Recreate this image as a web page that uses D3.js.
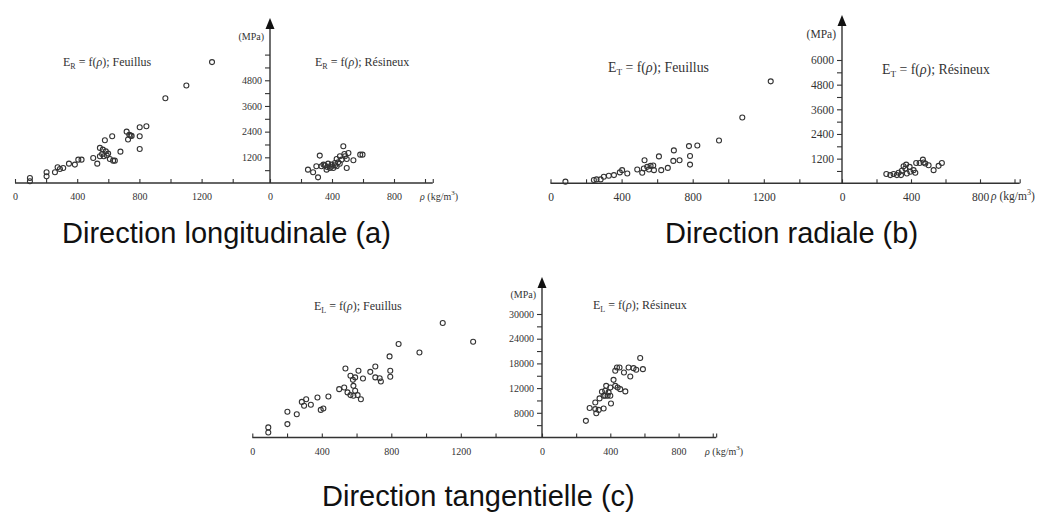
<!DOCTYPE html>
<html>
<head>
<meta charset="utf-8">
<script src="https://cdn.jsdelivr.net/npm/d3@7"></script>
<style>
  body { margin: 0; background: #fff; }
  svg text { font-family: "Liberation Serif", "Times New Roman", serif; fill: #333; }
  .title { font-family: "Liberation Sans", Arial, sans-serif; fill: #111; font-size: 29px; }
</style>
</head>
<body>
<svg id="chart" width="1056" height="512"></svg>
<script>
// values: [rho (kg/m3), E (MPa)]
const longFeuillus = [[1267,5650],[1102,4555],[967,3960],[845,2650],[802,2605],[802,2185],[802,1590],
  [743,2215],[735,2250],[750,2200],[718,2400],[727,2030],[625,2185],[578,2000],[546,1640],[584,1480],
  [599,1375],[571,1250],[546,1250],[503,1170],[529,905],[610,1125],[631,1045],[642,1045],[678,1465],
  [565,1560],[590,1300],[560,1350],[407,1090],[428,1090],[385,860],[347,905],[310,700],[289,655],
  [274,735],[257,500],[203,500],[203,310],[96,235],[96,80]];
const longResineux = [[473,1715],[321,1280],[582,1325],[597,1325],[506,1405],[480,1355],[451,1250],
  [462,1090],[430,1125],[495,1125],[538,1060],[419,935],[397,860],[375,905],[354,825],[332,780],
  [299,780],[386,700],[408,700],[430,780],[365,625],[495,700],[245,625],[278,500],[310,265],[440,965],
  [484,1250],[345,860],[370,750],[420,830],[450,900],[395,760]];
const radFeuillus = [[1239,4960],[1079,3200],[948,2080],[826,1840],[779,1810],[785,1330],[785,910],
  [726,1120],[691,1090],[694,1600],[610,1310],[529,1120],[563,850],[544,800],[525,720],[582,640],
  [623,640],[660,750],[516,510],[488,670],[432,480],[403,640],[390,530],[357,400],[328,370],[300,320],
  [282,190],[259,190],[244,160],[84,80],[554,670],[578,865]];
const radResineux = [[579,990],[560,850],[531,640],[502,880],[483,960],[469,1150],[450,990],[430,990],
  [372,910],[392,800],[415,640],[425,510],[396,560],[367,720],[347,610],[328,510],[318,400],[299,450],
  [280,400],[257,450],[342,400],[376,480],[357,830],[473,1010]];
const tangFeuillus = [[1096,27800],[1271,23250],[962,20650],[842,22700],[790,19700],[794,16200],
  [794,14750],[708,17250],[679,15950],[708,14600],[733,14400],[740,13600],[637,14350],[611,16200],
  [536,16750],[565,15000],[579,14000],[592,14600],[582,12550],[592,11350],[582,10150],[565,10300],
  [548,10950],[529,12150],[500,11750],[625,9300],[606,10300],[438,9950],[409,7050],[394,6700],
  [375,9700],[337,7950],[310,9300],[298,7700],[285,8650],[256,5650],[202,6250],[202,3250],[92,2450],[92,1200]];
const tangResineux = [[575,19300],[591,16600],[552,16450],[536,16850],[517,14800],[507,17000],
  [480,15800],[454,17000],[439,17000],[429,16200],[419,14000],[443,12150],[458,11750],[488,11200],
  [429,12550],[400,12150],[376,12550],[370,11350],[390,10950],[351,11100],[361,10150],[370,10150],
  [400,10150],[384,10150],[337,9500],[312,8500],[404,8250],[361,7050],[332,6700],[312,6900],
  [279,7150],[318,5900],[257,4050]];

// tick values and labels
const leftXTicks = [0, 200, 400, 600, 800, 1000, 1200, 1400];
const rightXTicks = [0, 200, 400, 600, 800, 1000];
const xLabelsLeft = [0, 400, 800, 1200];
const xLabelsRight = [0, 400, 800];
const yTicksSmall = d3.range(600, 6001, 600);
const yLabelsA = [1200, 2400, 3600, 4800];
const yLabelsB = [1200, 2400, 3600, 4800, 6000];
const yTicksBig = d3.range(3000, 30001, 3000);
const yLabelValsC = [6000, 12000, 18000, 24000, 30000];
const yLabelsC = ["8000", "12000", "18000", "24000", "30000"];

const titles = ["Direction longitudinale (a)", "Direction radiale (b)", "Direction tangentielle (c)"];

const svg = d3.select("#chart");
const ink = "#333";

const panels = [
  { left: longFeuillus, right: longResineux, sub: "R", title: titles[0], fs: 10,
    x0: 15, step0: 62.2, axisX: 270, step1: 62, rEnd: 1050,
    base: 183, yMax: 6000, yTopPx: 54.6, arrowTop: 18,
    yTicks: yTicksSmall, yLabelVals: yLabelsA, yLabelText: yLabelsA.map(String),
    fL: [63, 66], fR: [315, 66], rho: 420, mpaY: 40, titleX: 62, titleY: 243 },
  { left: radFeuillus, right: radResineux, sub: "T", title: titles[1], fs: 11.5,
    x0: 550.5, step0: 71.1, axisX: 842, step1: 69, rEnd: 1030,
    base: 183.3, yMax: 6000, yTopPx: 60, arrowTop: 15,
    yTicks: yTicksSmall, yLabelVals: yLabelsB, yLabelText: yLabelsB.map(String),
    fL: [608, 72], fR: [882, 74], rho: 991, mpaY: 38, titleX: 665, titleY: 243 },
  { left: tangFeuillus, right: tangResineux, sub: "L", title: titles[2], fs: 10,
    x0: 252.3, step0: 69.5, axisX: 542, step1: 68.3, rEnd: 1020,
    base: 437.5, yMax: 30000, yTopPx: 314, arrowTop: 277,
    yTicks: yTicksBig, yLabelVals: yLabelValsC, yLabelText: yLabelsC,
    fL: [314, 310], fR: [593, 309], rho: 705, mpaY: 298, titleX: 322, titleY: 506 }
];

function styleAxis(g, fs) {
  g.select(".domain").remove();
  g.selectAll(".tick line").attr("stroke", ink).attr("stroke-width", 1.1);
  g.selectAll(".tick text").attr("font-family", "Liberation Serif, serif").attr("font-size", fs).attr("fill", ink);
}

function formula(g, pos, sub, kind, fs) {
  const t = g.append("text").attr("x", pos[0]).attr("y", pos[1]).attr("font-size", fs);
  t.append("tspan").text("E");
  t.append("tspan").attr("font-size", fs * 0.67).attr("dy", 3).text(sub);
  t.append("tspan").attr("dy", -3).text(" = f(");
  t.append("tspan").attr("font-style", "italic").text("ρ");
  t.append("tspan").text("); " + kind);
}

function drawPanel(p) {
  const g = svg.append("g");
  const xL = d3.scaleLinear().domain([0, 400]).range([p.x0, p.x0 + p.step0]);
  const xR = d3.scaleLinear().domain([0, 400]).range([p.axisX, p.axisX + p.step1]);
  const y = d3.scaleLinear().domain([0, p.yMax]).range([p.base, p.yTopPx]);
  const rightEnd = xR(p.rEnd);

  // horizontal axis, one line across both halves
  g.append("line").attr("x1", p.x0).attr("x2", rightEnd)
    .attr("y1", p.base).attr("y2", p.base)
    .attr("stroke", ink).attr("stroke-width", 1.4);

  g.append("g").attr("transform", `translate(0,${p.base})`)
    .call(d3.axisBottom(xL).tickValues(leftXTicks).tickSize(-4).tickPadding(10)
      .tickFormat(d => xLabelsLeft.includes(d) ? d : ""))
    .call(styleAxis, p.fs);

  g.append("g").attr("transform", `translate(0,${p.base})`)
    .call(d3.axisBottom(xR).tickValues(rightXTicks.concat([p.rEnd])).tickSize(-4).tickPadding(10)
      .tickFormat(d => xLabelsRight.includes(d) ? d : ""))
    .call(styleAxis, p.fs);

  // vertical axis with arrow
  g.append("line").attr("x1", p.axisX).attr("x2", p.axisX)
    .attr("y1", p.base).attr("y2", p.arrowTop + 8)
    .attr("stroke", ink).attr("stroke-width", 1.4);
  g.append("path")
    .attr("d", `M${p.axisX - 4.5},${p.arrowTop + 11}L${p.axisX},${p.arrowTop}L${p.axisX + 4.5},${p.arrowTop + 11}Z`)
    .attr("fill", "#111");

  g.append("g").attr("transform", `translate(${p.axisX},0)`)
    .call(d3.axisLeft(y).tickValues(p.yTicks).tickSize(5).tickPadding(3)
      .tickFormat(d => {
        const i = p.yLabelVals.indexOf(d);
        return i >= 0 ? p.yLabelText[i] : "";
      }))
    .call(styleAxis, p.fs);

  g.append("text").attr("x", p.axisX - 6).attr("y", p.mpaY)
    .attr("text-anchor", "end").attr("font-size", p.fs).text("(MPa)");

  // unit label of the horizontal axis
  const u = g.append("text").attr("x", p.rho).attr("y", p.base + 17).attr("font-size", p.fs);
  u.append("tspan").attr("font-style", "italic").text("ρ");
  u.append("tspan").text("  (kg/m");
  u.append("tspan").attr("font-size", p.fs * 0.7).attr("dy", -5).text("3");
  u.append("tspan").attr("dy", 5).text(")");

  formula(g, p.fL, p.sub, "Feuillus", p.fs * 1.2);
  formula(g, p.fR, p.sub, "Résineux", p.fs * 1.2);

  // points
  g.append("g").selectAll("circle").data(p.left).join("circle")
    .attr("cx", d => xL(d[0])).attr("cy", d => y(d[1])).attr("r", 2.5)
    .attr("fill", "none").attr("stroke", ink).attr("stroke-width", 1.1);
  g.append("g").selectAll("circle").data(p.right).join("circle")
    .attr("cx", d => xR(d[0])).attr("cy", d => y(d[1])).attr("r", 2.5)
    .attr("fill", "none").attr("stroke", ink).attr("stroke-width", 1.1);

  g.append("text").attr("class", "title").attr("x", p.titleX).attr("y", p.titleY).text(p.title);
}

panels.forEach(drawPanel);
</script>
</body>
</html>
